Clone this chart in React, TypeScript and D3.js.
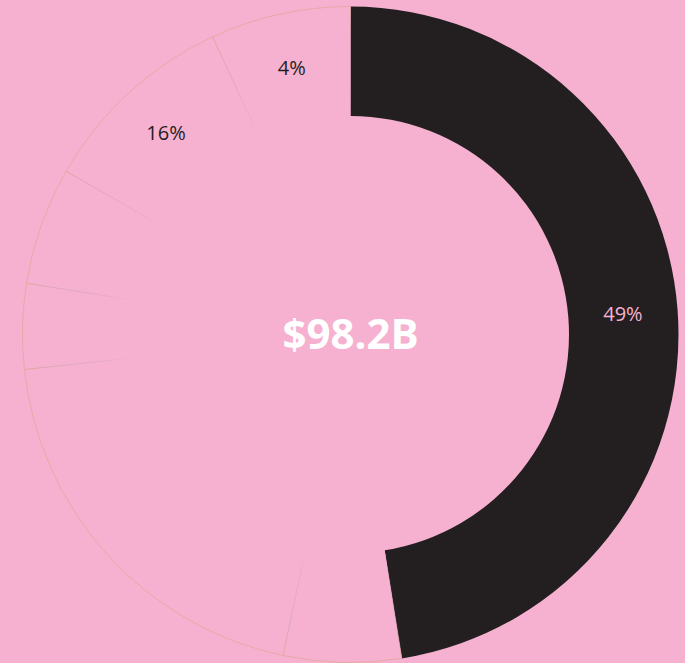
import React from "react";
import * as d3 from "d3";

const categories = ["A", "B", "C", "D", "E", "F", "G"];
const shares = [47.5, 5.8, 20.0, 4.2, 5.8, 9.8, 6.9];
const labels = ["49%", "", "", "", "", "16%", "4%"];
const totalLabel = "$98.2B";

const W = 685;
const H = 663;
const BG = "#F6B1D0";
const DARK = "#231F20";

export default function App() {
  const cx = 350.5;
  const cy = 334.5;
  const outerR = 328;
  const innerR = 218.5;

  const data = categories.map((c, i) => ({ c, v: shares[i], label: labels[i], i }));
  const pie = d3.pie<any>().value((d) => d.v).sort(null);
  const arcs = pie(data);
  const arcGen = d3.arc<any>().innerRadius(innerR).outerRadius(outerR);

  return (
    <svg
      width={W}
      height={H}
      style={{ position: "absolute", left: 0, top: 0, display: "block" }}
      fontFamily="'Open Sans', 'Noto Sans', sans-serif"
    >
      <defs>
        <radialGradient id="edge" gradientUnits="userSpaceOnUse" cx={0} cy={0} r={outerR + 1}>
          <stop offset="0.665" stopColor="#c9a0a8" stopOpacity={0} />
          <stop offset="0.75" stopColor="#c9a0a8" stopOpacity={0.25} />
          <stop offset="0.92" stopColor="#c9a0a8" stopOpacity={0.5} />
          <stop offset="1" stopColor="#e2a898" stopOpacity={0.9} />
        </radialGradient>
      </defs>
      <rect x={0} y={0} width={W} height={H} fill={BG} />
      <g transform={`translate(${cx},${cy})`}>
        {arcs.map((a, k) => (
          <path
            key={k}
            d={arcGen(a) as string}
            fill={k === 0 ? DARK : BG}
            stroke={k === 0 ? "none" : "url(#edge)"}
            strokeWidth={k === 0 ? 0 : 0.9}
          />
        ))}
        {arcs.map((a, k) => {
          if (!a.data.label) return null;
          const [x, y] = arcGen.centroid(a);
          return (
            <text
              key={"l" + k}
              x={x}
              y={y}
              textAnchor="middle"
              dominantBaseline="central"
              fontSize={20}
              fill={k === 0 ? BG : DARK}
            >
              {a.data.label}
            </text>
          );
        })}
        <text
          x={0}
          y={-2}
          textAnchor="middle"
          dominantBaseline="central"
          fontSize={42}
          fontWeight={700}
          fill="#ffffff"
        >
          {totalLabel}
        </text>
      </g>
    </svg>
  );
}
